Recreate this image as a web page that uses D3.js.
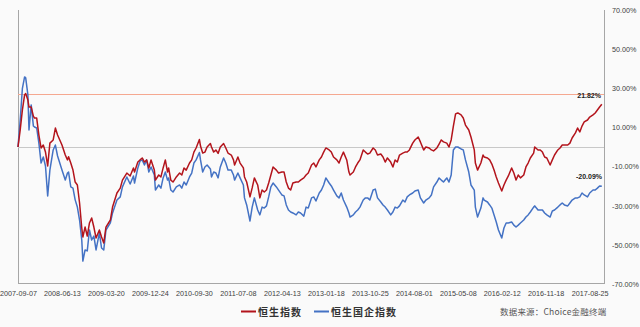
<!DOCTYPE html>
<html><head><meta charset="utf-8">
<script src="https://cdn.jsdelivr.net/npm/d3@7"></script>
<style>html,body{margin:0;padding:0;background:#fafafa;}svg{display:block;}</style>
</head><body>
<script>
// week offsets from 2007-09-07
const weeks = [0,2,4,6,7,9,10,12,14,15,
17,19,21,23,25,27,29,32,34,36,
40,43,45,46,48,50,52,54,56,58,
59,61,63,65,67,69,71,74,76,78,
80,84,86,90,93,95,99,102,105,106,
109,111,113,115,117,119,121,124,125,128,
130,132,134,136,137,139,141,144,147,149,
151,153,156,158,160,162,165,166,168,170,
172,175,176,178,180,182,184,187,189,191,
194,196,197,200,202,205,206,208,211,213,
215,218,220,222,224,226,228,230,232,235,
237,240,242,244,246,248,250,253,255,257,
260,262,264,267,269,271,274,276,278,280,
283,285,287,290,292,294,296,299,301,302,
305,307,309,311,314,316,318,320,323,325,
327,330,332,334,336,339,341,343,345,347,
350,352,354,356,359,361,364,366,369,371,
374,376,378,381,383,385,387,390,392,394,
396,398,400,403,405,407,410,412,415,416,
418,421,423,424,427,429,431,433,435,437,
440,442,444,446,449,451,453,455,457,460,
462,464,466,469,470,473,475,477,479,481,
484,486,488,491,493,495,497,500,502,504,
507,509,511,513,515,518,520,523,525,527,
529,531];

// 恒生指数 cumulative change (%)
const hsi = [0,8.7,19,26.6,27.3,24,20.4,20.4,15.8,14.8,
14.8,6.1,-0.5,1,-2.6,-9.7,2,3.6,9.7,6.1,
1,-4.1,-6.6,-5,-8.2,-11.8,-17.9,-19.4,-28.6,-41.4,
-46,-40.9,-45.5,-38.8,-36.3,-40.9,-46.5,-42.4,-46,-49,
-40.9,-37.3,-30.7,-23.5,-21,-16.9,-13.3,-14.8,-10.7,-12.8,
-7.7,-6.6,-5.6,-7.7,-6.6,-10.7,-6.6,-11.8,-16.9,-14.3,
-15.3,-10.7,-6.6,-12.8,-10.7,-16.9,-17.9,-15.3,-13.3,-14.3,
-10.7,-11.8,-8.2,-6.6,-2.6,-0.5,3.8,0.5,-3.1,-2.6,
0,1.8,0,-2.6,-1.5,-3.3,0,1.8,-0.5,-3.1,
-4.1,-6.6,-9.2,-5.1,-8.2,-10.7,-15.3,-17.9,-25.5,-20.9,
-15.8,-19.4,-26,-22,-23,-22,-18.4,-14.3,-10.2,-11.8,
-13.3,-12.8,-12.8,-17.9,-21,-22,-18.4,-17.9,-17.9,-16.9,
-15.8,-14.3,-13.3,-9.2,-8.2,-10.2,-6.6,-5.1,-2.6,-0.5,
-1.5,-2.6,-5.1,-6.6,-8.2,-5.1,-2.6,-6.6,-12.8,-14.3,
-12.8,-10.2,-8.2,-6.6,-1.5,-2.6,-3.6,-3.1,-0.5,-1.5,
-4.1,-3.6,-5.1,-7.7,-5.6,-7.7,-10.2,-6.6,-7.7,-4.1,
-3.1,-2.6,-2.6,-1.5,2,3.6,5.1,2.6,-1.5,0,
-0.5,-1.5,-2,-0.5,1.5,3.6,2.6,2,0,3.6,
10.7,16.9,17.4,16.4,14.8,11.2,8.7,5.1,-1.5,-8.2,
-11.8,-8.2,-4.1,-5.1,-5.6,-6.6,-8.7,-11.8,-15.3,-18.4,
-22.5,-19.4,-16.9,-14.8,-10.7,-13.3,-16.9,-14.3,-15.8,-14.3,
-10.2,-8.2,-5.6,-3.1,0,-1.5,-1.5,-2.6,-5.1,-5.6,
-9.2,-6.6,-4.1,-1.5,-0.5,1,1,1,2,4.6,
7.2,9.7,7.7,10.7,12.8,13.8,15.3,16.4,17.4,18.9,
20.4,21.82];

// 恒生国企指数 cumulative change (%)
const hscei = [0,13.8,30,35.8,35.3,26.6,8.7,21.5,10.7,10.2,
9.7,2,-8.2,-5.1,-9.7,-25,-11.8,-1.5,1,-4.6,
-11.8,-16.9,-13.3,-12.8,-20.4,-21,-27,-30.7,-37.3,-47.5,
-58.3,-52.6,-53.1,-42.4,-47.5,-45.5,-52.6,-43.9,-51.6,-52.6,
-42.4,-38.8,-33.7,-27.1,-25.5,-20.4,-15.3,-18.9,-14.8,-18.4,
-10.7,-7.2,-6.6,-9.2,-6.6,-12.8,-10.2,-14.3,-22,-19.4,
-21,-15.8,-12.8,-16.9,-15.8,-22,-23,-20.4,-19.4,-21,
-17.9,-19.4,-15.3,-13.3,-8.2,-6.6,-2.8,-6.6,-12.8,-10.2,
-9.2,-11.2,-15.3,-12.8,-13.3,-15.8,-10.2,-5.6,-8.2,-11.8,
-11.8,-14.3,-16.9,-13.3,-15.8,-19.4,-26,-29.6,-37.8,-30.7,
-26,-32.2,-34.7,-30.7,-31.2,-30.1,-25.5,-20.4,-18.4,-20.4,
-22,-24.5,-25,-29.6,-32.2,-33.2,-33.7,-34.7,-33.2,-33.7,
-35.3,-30.7,-31.2,-26,-25.5,-27.6,-23.5,-22,-19.4,-15.8,
-18.4,-19.9,-22,-25,-26,-23.5,-27.1,-30.7,-33.7,-35.8,
-34.7,-33.2,-32.2,-30.7,-27.1,-26,-26,-27.1,-22,-21.5,
-26,-28.1,-29.6,-30.7,-32.2,-34.7,-33.2,-30.7,-31.2,-30.1,
-27.1,-28.1,-25.5,-24.5,-23.5,-22.5,-22,-26,-28.6,-27.1,
-26,-24.5,-20.4,-17.9,-15.8,-16.9,-17.9,-15.8,-17.9,-14.3,
-1.5,0,0,-1,-1.5,-6.6,-12.8,-19.4,-22,-30.7,
-35.8,-31.2,-26,-27.1,-28.1,-29.6,-31.2,-34.7,-38.3,-42.4,
-46.5,-41.4,-38.8,-38.8,-38.3,-39.9,-40.9,-39.9,-38.8,-37.3,
-35.8,-34.7,-33.2,-30.7,-30.1,-32.2,-32.2,-32.2,-33.7,-34.7,
-35.8,-32.7,-32.2,-30.7,-29.6,-28.6,-29.6,-30.1,-28.6,-27.1,
-26,-26,-25.5,-23.5,-24.5,-25.5,-23.5,-22,-22,-21,
-19.9,-20.09];

const xTickWeeks = [0,40,80,120,160,200,240,280,320,360,400,440,480,520];
const xTickLabels = ["2007-09-07","2008-06-13","2009-03-20","2009-12-24","2010-09-30","2011-07-08","2012-04-13","2013-01-18","2013-10-25","2014-08-01","2015-05-08","2016-02-12","2016-11-18","2017-08-25"];
const yTicks = [70,50,30,10,-10,-30,-50,-70];
const seriesNames = ["恒生指数","恒生国企指数"];
const sourceText = "数据来源：Choice金融终端";

(function () {
const W = 640, H = 327;
const mL = 18, mR = 604, mT = 10, mB = 284;
const red = "#b3141c", blue = "#4472c4";

const svg = d3.select("body").append("svg").attr("width", W).attr("height", H);
svg.append("rect").attr("width", W).attr("height", H).attr("fill", "#fafafa");

const x = d3.scaleLinear().domain([0, 533]).range([mL, mR]);
const y = d3.scaleLinear().domain([-70, 70]).range([mB, mT]);

// frame lines
const frame = svg.append("g").attr("stroke", "#a6a6a6").attr("stroke-width", 1);
frame.append("line").attr("x1", mL + 0.5).attr("x2", mL + 0.5).attr("y1", mT).attr("y2", mB);
frame.append("line").attr("x1", mR + 0.5).attr("x2", mR + 0.5).attr("y1", mT).attr("y2", mB);
frame.append("line").attr("x1", mL).attr("x2", mR + 0.5).attr("y1", mB - 0.5).attr("y2", mB - 0.5);

// zero line
svg.append("line").attr("x1", mL).attr("x2", mR)
  .attr("y1", Math.round(y(0)) + 0.5).attr("y2", Math.round(y(0)) + 0.5)
  .attr("stroke", "#c8c8c8").attr("stroke-width", 1);

// max line of HSI
const maxV = d3.max(hsi);
const yMax = Math.round(y(maxV)) + 0.5;
svg.append("line").attr("x1", mL).attr("x2", mR)
  .attr("y1", yMax).attr("y2", yMax)
  .attr("stroke", "#f5a890").attr("stroke-width", 1);

// y axis (right)
const yAxis = d3.axisRight(y).tickValues(yTicks).tickSize(0).tickPadding(0)
  .tickFormat(d => d.toFixed(2) + "%");
const gy = svg.append("g").attr("transform", `translate(612,0)`).call(yAxis);
gy.select(".domain").remove();
gy.selectAll("text").attr("font-family", "Liberation Sans, Arial, sans-serif")
  .attr("font-size", 7.2).attr("fill", "#404040");

// x axis
const xAxis = d3.axisBottom(x).tickValues(xTickWeeks).tickSize(0).tickPadding(7)
  .tickFormat((d, i) => xTickLabels[i]);
const gx = svg.append("g").attr("transform", `translate(0,${mB})`).call(xAxis);
gx.select(".domain").remove();
gx.selectAll("text").attr("font-family", "Liberation Sans, Arial, sans-serif")
  .attr("font-size", 7.2).attr("fill", "#404040");

// lines
const line = vals => d3.line().x((d, i) => x(weeks[i])).y(d => y(d))(vals);
svg.append("path").attr("d", line(hscei)).attr("fill", "none")
  .attr("stroke", blue).attr("stroke-width", 1.5).attr("stroke-linejoin", "round");
svg.append("path").attr("d", line(hsi)).attr("fill", "none")
  .attr("stroke", red).attr("stroke-width", 1.5).attr("stroke-linejoin", "round");

// end labels
const lastI = weeks.length - 1;
svg.append("text").attr("x", 601).attr("y", y(hsi[lastI]) - 6)
  .attr("text-anchor", "end").attr("font-family", "Liberation Sans, Arial, sans-serif")
  .attr("font-size", 7).attr("font-weight", "bold").attr("fill", "#222")
  .text(hsi[lastI].toFixed(2) + "%");
svg.append("text").attr("x", 602).attr("y", y(hscei[lastI]) - 7)
  .attr("text-anchor", "end").attr("font-family", "Liberation Sans, Arial, sans-serif")
  .attr("font-size", 7).attr("font-weight", "bold").attr("fill", "#222")
  .text(hscei[lastI].toFixed(2) + "%");

// legend
const leg = svg.append("g").attr("font-family", "Noto Sans CJK SC, sans-serif");
const legItems = [{name: seriesNames[0], color: red, x0: 241}, {name: seriesNames[1], color: blue, x0: 314}];
legItems.forEach(it => {
  leg.append("line").attr("x1", it.x0).attr("x2", it.x0 + 15).attr("y1", 311.5).attr("y2", 311.5)
    .attr("stroke", it.color).attr("stroke-width", 2);
  leg.append("text").attr("x", it.x0 + 17).attr("y", 315.5).attr("font-size", 10)
    .attr("font-weight", "bold").attr("letter-spacing", 1).attr("fill", "#333").text(it.name);
});
leg.append("text").attr("x", 500).attr("y", 315).attr("font-size", 8.5)
  .attr("fill", "#555").attr("letter-spacing", 0.2).text(sourceText);
})();
</script>
</body></html>
